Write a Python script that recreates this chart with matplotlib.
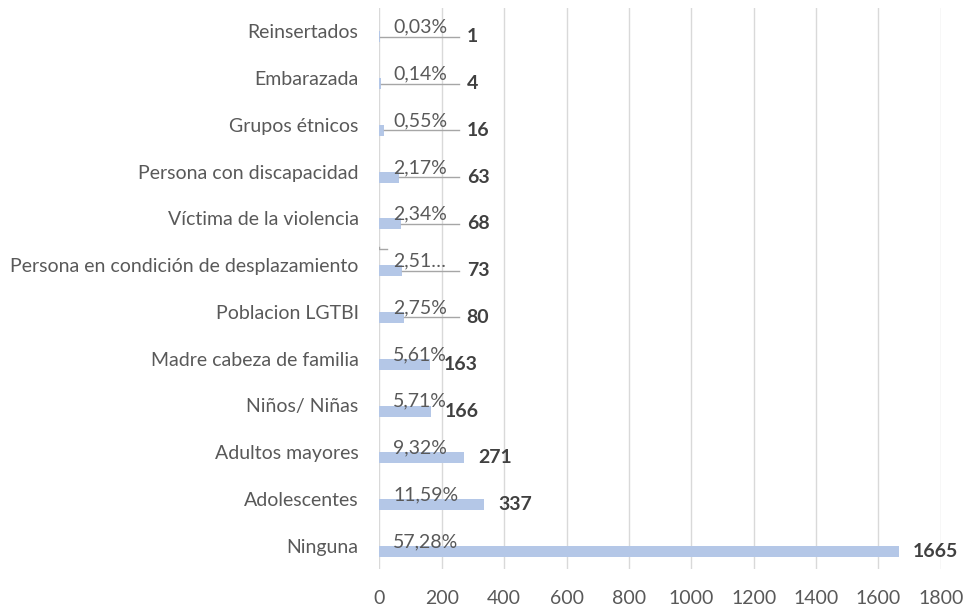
import matplotlib
matplotlib.use('Agg')
import matplotlib.pyplot as plt
from matplotlib import transforms

# ---------------
# Data (top to bottom as in the chart)
# ---------------
categories = ['Reinsertados', 'Embarazada', 'Grupos étnicos',
              'Persona con discapacidad', 'Víctima de la violencia',
              'Persona en condición de desplazamiento', 'Poblacion LGTBI',
              'Madre cabeza de familia', 'Niños/ Niñas', 'Adultos mayores',
              'Adolescentes', 'Ninguna']
counts = [1, 4, 16, 63, 68, 73, 80, 163, 166, 271, 337, 1665]
pct_labels = ['0,03%', '0,14%', '0,55%', '2,17%', '2,34%', '2,51…', '2,75%',
              '5,61%', '5,71%', '9,32%', '11,59%', '57,28%']
xticks = list(range(0, 2000, 200))

# ---------------
# Style
# ---------------
font = 'Lato'
fsize = 14
bar_color = '#B4C7E7'
text_color = '#595959'
value_color = '#404040'
grid_color = '#D9D9D9'
leader_color = '#A6A6A6'

plt.rcParams['font.family'] = [font, 'DejaVu Sans']

fig = plt.figure(figsize=(9.64, 6.08), dpi=100)
ax = fig.add_axes([0.3935, 0.064, 0.976 - 0.3935, 0.987 - 0.064])

ypos = list(range(len(categories)))
bar_shift = 0.12  # bars sit a bit below the category label
bar_y = [y + bar_shift for y in ypos]
ax.barh(bar_y, counts, height=0.235, color=bar_color, zorder=2)

ax.set_xlim(0, 1800)
ax.set_ylim(len(categories) - 0.5, -0.5)
ax.set_xticks(xticks)
ax.set_yticks(ypos)
ax.set_yticklabels(categories)
ax.tick_params(axis='both', length=0, labelsize=fsize, colors=text_color)
ax.tick_params(axis='y', pad=15)
ax.tick_params(axis='x', pad=15)
ax.grid(axis='x', color=grid_color, linewidth=1, zorder=0)
for s in ax.spines.values():
    s.set_visible(False)

# percent labels just above each bar
for y, lab in zip(bar_y, pct_labels):
    ax.annotate(lab, xy=(0, y), xytext=(10, 3), textcoords='offset points',
                ha='left', va='baseline', fontsize=fsize, color=text_color,
                zorder=4)

# value labels with leader lines for the small bars
px_per_unit = (ax.get_position().width * fig.get_figwidth() * fig.dpi) / 1800
for y, v in zip(bar_y, counts):
    if v < 100:
        lx = 280
    else:
        lx = v + 45
    ax.text(lx, y, str(v), ha='left', va='center', fontsize=fsize,
            fontweight='bold', color=value_color, zorder=4)
    if v < 100:
        ax.plot([v, lx - 8 / px_per_unit], [y, y], color=leader_color,
                linewidth=1, zorder=3)

# stray leader stub next to the truncated "2,51…" label
i = pct_labels.index('2,51…')
stub = ax.transData + transforms.ScaledTranslation(0, 16 / 72, fig.dpi_scale_trans)
ax.plot([0, 0, 8 / px_per_unit], [bar_y[i] - 0.03, bar_y[i], bar_y[i]],
        color=leader_color, linewidth=1, transform=stub, zorder=3)

fig.savefig('out.png', dpi=100)
